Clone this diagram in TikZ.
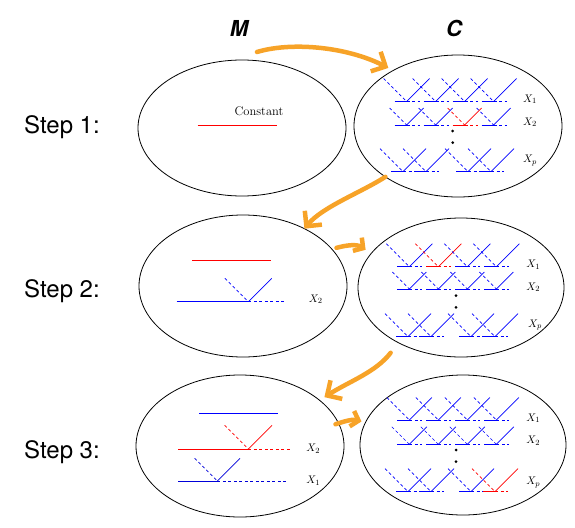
\documentclass[tikz,border=0pt]{standalone}
\usepackage{fontspec}
\usepackage{tikz}
\usetikzlibrary{shapes.geometric,arrows.meta,calc}
\newfontfamily\helv{TeX Gyre Heros}
\definecolor{floworange}{RGB}{247,163,40}
\newcommand{\vcut}[6]{%
  \draw[#1,baseln] (#2-#5,#3) -- (#2,#3);
  \draw[#1,baseln,cutline] (#2,#3) -- (#2+#6,#3);
  \draw[#1,diagln,cutline] (#2-#4,#3-#4) -- (#2,#3);
  \draw[#1,diagln] (#2,#3) -- (#2+#4,#3-#4);
}
\begin{document}
\begin{tikzpicture}[x=1pt,y=-1pt,
    oval/.style={draw, ellipse, line width=0.8pt, inner sep=0pt, outer sep=0pt},
    fullln/.style={line width=1.2pt},
    baseln/.style={line width=1pt},
    diagln/.style={line width=0.7pt},
    cutline/.style={dash pattern=on 3pt off 2.5pt},
    flow/.style={draw=floworange, line width=4.5pt, line cap=round, line join=round, -{Straight Barb[length=11pt,width=22pt]}},
    smallflow/.style={flow, -{Straight Barb[length=7pt,width=16pt]}},
    steplabel/.style={font=\helv\fontsize{24}{28}\selectfont},
    head/.style={font=\helv\bfseries\itshape\fontsize{22}{26}\selectfont},
    xlab/.style={font=\fontsize{11}{13}\selectfont}]
\useasboundingbox (0,0) rectangle (575,527);

\node[head] (mtitle) at (239,28) {M};
\node[head] (ctitle) at (454,28) {C};
\node[steplabel] (step1) at (62,127) {Step 1:};
\node[steplabel] (step2) at (62,291) {Step 2:};
\node[steplabel] (step3) at (62,452) {Step 3:};

\node[oval, minimum width=208pt, minimum height=136pt] (m1) at (242,128) {};
\node[oval, minimum width=208pt, minimum height=142pt] (c1) at (458,126) {};
\node[oval, minimum width=208pt, minimum height=142pt] (m2) at (243,286) {};
\node[oval, minimum width=206pt, minimum height=139pt] (c2) at (461,287.5) {};
\node[oval, minimum width=208pt, minimum height=142pt] (m3) at (240,446) {};
\node[oval, minimum width=206pt, minimum height=140pt] (c3) at (463,445) {};

\draw[red,fullln] (197.7,125.7) -- (276.7,125.7);
\node[font=\fontsize{12.5}{15}\selectfont] (const) at (259,111) {Constant};

\draw[red,fullln] (192,260.7) -- (271,260.7);
\vcut{blue}{248.3}{301.7}{23.4}{71.6}{38.4}
\node[xlab] (m2x2) at (315.7,299.3) {$X_2$};

\draw[blue,fullln] (199,413.3) -- (278.3,413.3);
\vcut{red}{248.3}{449}{23.7}{70}{42.7}
\vcut{blue!85!black}{217.3}{481}{22.7}{39}{70}
\node[xlab] (m3x2) at (313.3,449) {$X_2$};
\node[xlab] (m3x1) at (313.3,481) {$X_1$};

\foreach \v in {406.5,435.5,464.5,493.5} {\vcut{blue}{\v}{101.5}{23}{12}{13}}
\foreach \v/\c in {406.5/blue,435.5/blue,464.5/red,493.5/blue} {\vcut{\c}{\v}{125}{17}{12}{13}}
\foreach \v in {403,426,468,491} {\vcut{blue}{\v}{171.7}{23}{12}{13}}
\fill (452.7,131) circle (1.5pt);
\fill (452.7,142.7) circle (1.5pt);
\node[xlab] (c1x1) at (530,99.3) {$X_1$};
\node[xlab] (c1x2) at (530,122.3) {$X_2$};
\node[xlab] (c1xp) at (530,160.7) {$X_p$};

\foreach \v/\c in {409.3/blue,438.3/red,467.3/blue,496.3/blue} {\vcut{\c}{\v}{266.7}{23}{12}{13}}
\foreach \v in {409.3,438.3,467.3,496.3} {\vcut{blue}{\v}{289}{17}{12}{13}}
\foreach \v in {408,431,471,495} {\vcut{blue}{\v}{336.7}{23}{12}{13}}
\fill (456,295.7) circle (1.5pt);
\fill (456,307.3) circle (1.5pt);
\node[xlab] (c2x1) at (533.3,265) {$X_1$};
\node[xlab] (c2x2) at (533.3,287.3) {$X_2$};
\node[xlab] (c2xp) at (535,325) {$X_p$};

\foreach \v in {409.3,438.3,467.3,496.3} {\vcut{blue}{\v}{420}{22.5}{12}{13}}
\foreach \v in {409.3,438.3,467.3,496.3} {\vcut{blue}{\v}{444.3}{17.5}{12}{13}}
\foreach \v/\c in {408/blue,431/blue,471/blue,495/red} {\vcut{\c}{\v}{491.7}{23}{12}{13}}
\fill (456,450) circle (1.5pt);
\fill (456,461.7) circle (1.5pt);
\node[xlab] (c3x1) at (533.3,418.3) {$X_1$};
\node[xlab] (c3x2) at (533.3,440.7) {$X_2$};
\node[xlab] (c3xp) at (533.3,482.3) {$X_p$};

\draw[flow] ($(m1.north)+(15,-8)$) .. controls (290,42) and (345,46) .. ($(c1.140)+(-4,-3)$);
\draw[flow] (c1.215) .. controls (362,192) and (322,207) .. (m2.43);
\draw[smallflow] ($(m2.22)+(4,-2)$) .. controls (347,245) and (357,244) .. ($(c2.158)+(-7,-2)$);
\draw[flow] ($(c2.223)+(-10,9)$) .. controls (376,372) and (350,381) .. ($(m3.30)+(5,-3)$);
\draw[smallflow] ($(m3.13)+(-3,1)$) .. controls (345,421) and (353,419) .. ($(c3.167)+(-4,-1)$);
\end{tikzpicture}
\end{document}
